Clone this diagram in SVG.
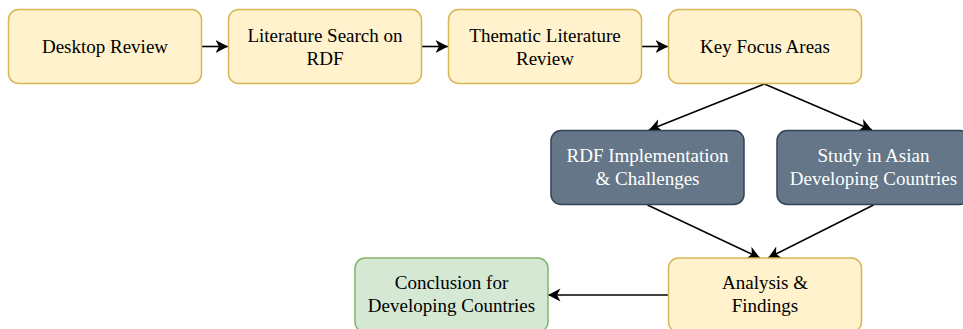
<svg xmlns="http://www.w3.org/2000/svg" width="963" height="329" viewBox="0 0 963 329">
  <defs>
    <marker id="arr" markerUnits="userSpaceOnUse" markerWidth="14" markerHeight="14" viewBox="0 0 14 14" refX="12.5" refY="7" orient="auto">
      <path d="M0,0.5 L12.5,7 L0,13.5 L3.5,7 Z" fill="#000"/>
    </marker>
  </defs>
  <style>
    .yel { fill: #fff2cc; stroke: #d6b656; stroke-width: 1.5; }
    .dark { fill: #647687; stroke: #314354; stroke-width: 1.5; }
    .grn { fill: #d5e8d4; stroke: #82b366; stroke-width: 1.5; }
    text { font-family: "Liberation Serif", "Times New Roman", serif; font-size: 19px; text-anchor: middle; fill: #000; }
    .w { fill: #ffffff; }
    .edge { fill: none; stroke: #000; stroke-width: 1.6; marker-end: url(#arr); }
  </style>
  <rect width="963" height="329" fill="#ffffff"/>
  <g id="connectors">
    <line class="edge" x1="201" y1="46.5" x2="228" y2="46.5"/>
    <line class="edge" x1="421" y1="46.5" x2="448" y2="46.5"/>
    <line class="edge" x1="641" y1="46.5" x2="668" y2="46.5"/>
    <line class="edge" x1="764.5" y1="84" x2="649" y2="130"/>
    <line class="edge" x1="764.5" y1="84" x2="872" y2="130"/>
    <line class="edge" x1="647.5" y1="205" x2="760" y2="258"/>
    <line class="edge" x1="873.5" y1="205" x2="768" y2="258"/>
    <line class="edge" x1="668" y1="295" x2="548" y2="295"/>
  </g>
  <g id="desktop-review">
    <rect class="yel" x="8.5" y="9.5" width="193" height="74" rx="10"/>
    <text x="105" y="53">Desktop Review</text>
  </g>
  <g id="literature-search">
    <rect class="yel" x="228.5" y="9.5" width="193" height="74" rx="10"/>
    <text x="325" y="42">Literature Search on</text>
    <text x="325" y="65">RDF</text>
  </g>
  <g id="thematic-review">
    <rect class="yel" x="448.5" y="9.5" width="193" height="74" rx="10"/>
    <text x="545" y="42">Thematic Literature</text>
    <text x="545" y="65">Review</text>
  </g>
  <g id="key-focus">
    <rect class="yel" x="668.5" y="9.5" width="193" height="74" rx="10"/>
    <text x="765" y="53">Key Focus Areas</text>
  </g>
  <g id="rdf-implementation">
    <rect class="dark" x="551" y="130.5" width="193" height="74" rx="10"/>
    <text class="w" x="647.5" y="162">RDF Implementation</text>
    <text class="w" x="647.5" y="185">&amp; Challenges</text>
  </g>
  <g id="asian-study">
    <rect class="dark" x="777" y="130.5" width="193" height="74" rx="10"/>
    <text class="w" x="873.5" y="162">Study in Asian</text>
    <text class="w" x="873.5" y="185">Developing Countries</text>
  </g>
  <g id="analysis">
    <rect class="yel" x="668.5" y="258" width="193" height="74" rx="10"/>
    <text x="765" y="289">Analysis &amp;</text>
    <text x="765" y="312">Findings</text>
  </g>
  <g id="conclusion">
    <rect class="grn" x="355" y="258" width="193" height="74" rx="10"/>
    <text x="451.5" y="289">Conclusion for</text>
    <text x="451.5" y="312">Developing Countries</text>
  </g>
</svg>
